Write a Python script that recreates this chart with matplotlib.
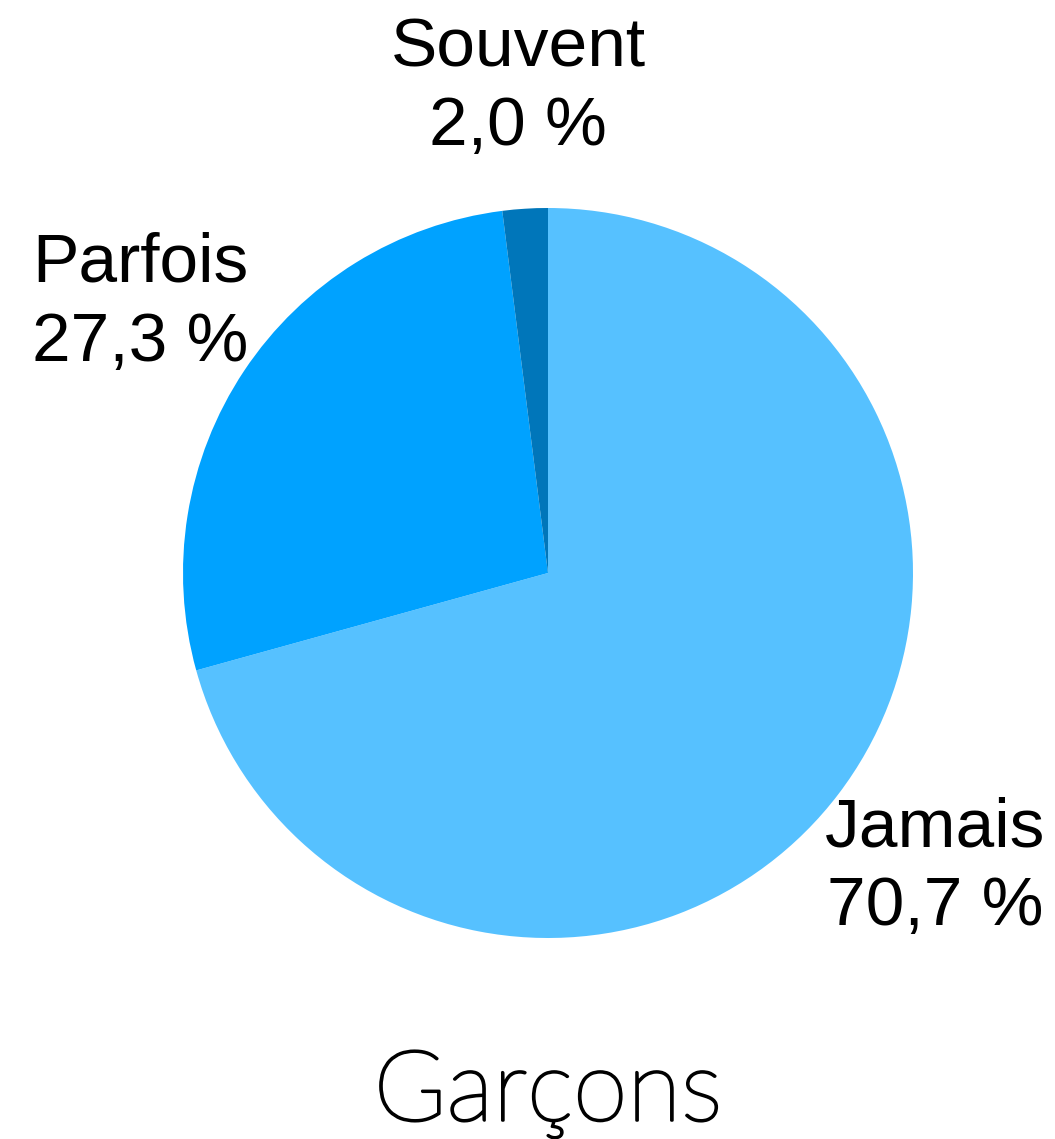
import matplotlib
matplotlib.use('Agg')
import matplotlib.pyplot as plt
import matplotlib.patheffects as pe

# data
categories = ['Jamais', 'Parfois', 'Souvent']
values = [70.7, 27.3, 2.0]
colors = ['#56C1FF', '#00A2FF', '#0076BA']
title = 'Garçons'

W, H = 1055, 1139
fig = plt.figure(figsize=(W / 100., H / 100.), dpi=100)
ax = fig.add_axes([0, 0, 1, 1])
ax.set_xlim(0, W)
ax.set_ylim(0, H)
ax.set_aspect('equal')
ax.axis('off')

cx, cy, r = 548, H - 573, 365
ax.pie(values, colors=colors, startangle=90, counterclock=False,
       center=(cx, cy), radius=r, wedgeprops=dict(linewidth=0))
ax.set_xlim(0, W)
ax.set_ylim(0, H)

# label positions in pixels (x, y from top)
label_pos = [(935, 868), (140, 303), (518, 88)]
for name, val, (x, y) in zip(categories, values, label_pos):
    txt = '%s\n%s %%' % (name, ('%.1f' % val).replace('.', ','))
    ax.text(x, H - y, txt, ha='center', va='center', fontsize=50,
            family='Liberation Sans', linespacing=1.3)

ax.text(cx, H - 1094, title, ha='center', va='center', fontsize=71,
        family='Lato', fontweight='light',
        path_effects=[pe.withStroke(linewidth=1.8, foreground='black')])

fig.savefig('out.png', dpi=100)
